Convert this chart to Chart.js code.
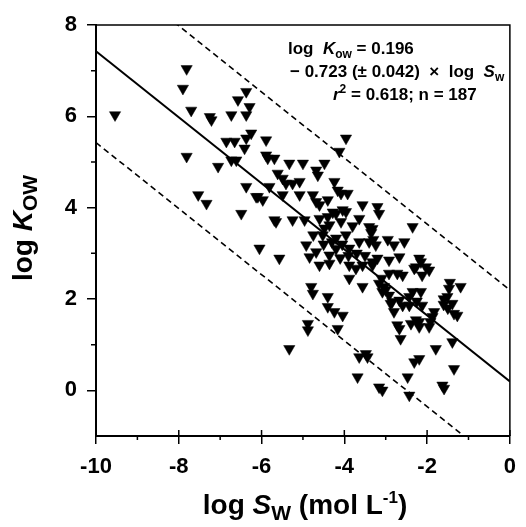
<!DOCTYPE html>
<html lang="en">
<head>
<meta charset="UTF-8">
<title>log Kow vs log Sw</title>
<script src="https://cdn.jsdelivr.net/npm/chart.js"></script>
<style>
  html, body { margin: 0; padding: 0; background: #fff; }
</style>
</head>
<body>
<canvas id="kowChart" width="526" height="527"></canvas>
<script>
// water solubility, log Sw (mol/L)
var logSw = [
  -9.54, -7.81, -7.90, -7.70, -7.25, -7.21, -6.73, -6.37, -6.57, -6.29,
  -6.37, -6.25, -6.37, -6.85, -6.65, -6.41, -7.81, -6.73, -6.61, -7.05,
  -6.37, -6.13, -7.53, -7.33, -6.49, -6.05, -5.57, -5.69, -5.89, -5.89,
  -5.85, -5.69, -5.33, -5.00, -4.68, -4.64, -4.48, -4.24, -5.61, -5.49,
  -5.41, -5.25, -5.08, -5.49, -5.08, -5.81, -6.09, -5.97, -4.76, -4.68,
  -4.60, -4.40, -4.08, -3.92, -5.65, -5.25, -4.96, -4.60, -4.36, -4.20,
  -3.96, -3.56, -3.64, -3.32, -4.52, -4.20, -3.96, -3.88, -3.64, -3.40,
  -3.24, -4.92, -4.68, -4.36, -3.96, -4.12, -5.33, -4.16, -3.20, -3.16,
  -3.40, -2.35, -4.48, -4.40, -4.28, -4.04, -4.08, -3.80, -3.30, -2.80,
  -2.55, -2.67, -2.92, -3.20, -3.32, -2.92, -2.59, -2.31, -2.15, -2.12,
  -1.95, -3.16, -3.04, -3.08, -2.92, -2.35, -2.15, -2.84, -2.80, -2.59,
  -2.43, -2.12, -1.83, -1.47, -1.19, -1.51, -1.39, -1.35, -1.27, -2.39,
  -2.19, -2.19, -1.92, -2.67, -2.64, -1.39, -1.79, -4.80, -4.76, -4.40,
  -4.40, -4.24, -4.04, -4.16, -4.88, -4.88, -3.64, -3.44, -3.68, -3.88,
  -3.56, -4.84, -4.60, -4.36, -3.88, -3.72, -3.56, -3.32, -1.95, -2.31,
  -2.19, -1.35, -2.47, -1.63, -1.59, -3.08, -2.43, -3.16, -4.20, -4.05,
  -3.90, -4.10, -3.70, -3.50, -4.50, -3.00, -2.72, -2.27, -2.03, -2.19,
  -2.43, -2.25, -1.60, -1.50, -1.45, -1.60, -1.87, -3.48, -2.88, -2.67,
  -2.72, -2.27, -3.35, -4.75, -3.10, -2.95, -4.30
];

// octanol/water partition coefficient, log Kow
var logKow = [
  6.03, 7.04, 6.61, 6.13, 5.99, 5.92, 6.03, 6.54, 6.36, 6.21,
  6.03, 5.63, 5.52, 5.45, 5.45, 5.30, 5.12, 5.04, 5.04, 4.90,
  4.46, 4.24, 4.28, 4.09, 3.87, 3.11, 2.89, 3.73, 5.48, 5.15,
  5.08, 5.08, 4.97, 4.97, 4.82, 4.71, 4.97, 4.57, 4.75, 4.64,
  4.53, 4.53, 4.57, 4.28, 4.28, 4.46, 4.24, 4.17, 4.28, 4.13,
  4.06, 4.17, 4.31, 4.31, 3.69, 3.73, 3.73, 3.76, 3.62, 3.87,
  3.91, 4.06, 3.76, 3.54, 3.40, 3.33, 3.40, 3.11, 3.25, 3.25,
  3.18, 3.18, 3.03, 2.96, 5.52, 5.23, 0.91, 4.38, 4.02, 3.87,
  3.58, 3.58, 3.55, 3.80, 3.90, 3.95, 3.69, 3.60, 3.30, 3.18,
  3.25, 2.92, 2.85, 2.89, 2.74, 2.56, 2.52, 2.67, 2.81, 2.52,
  2.63, 2.34, 2.27, 2.16, 2.08, 2.16, 2.16, 1.94, 1.72, 1.86,
  1.86, 1.86, 1.72, 2.23, 2.27, 2.05, 1.90, 1.68, 1.64, 1.46,
  1.50, 1.39, 1.50, 1.35, 1.13, 1.06, 0.91, 2.27, 2.12, 2.05,
  1.83, 1.72, 1.64, 1.35, 1.46, 1.32, 0.73, 0.73, 0.29, 2.45,
  2.27, 2.92, 2.74, 2.78, 2.74, 2.67, 2.74, 2.81, 1.39, 0.62,
  0.69, 0.47, 0.29, 0.11, 0.04, 0.00, -0.11, 0.07, 3.10, 3.20,
  2.95, 2.90, 3.00, 2.95, 3.20, 2.20, 2.56, 2.70, 2.70, 2.89,
  2.05, 1.95, 1.88, 1.80, 2.36, 2.00, 1.61, 0.80, 1.90, 1.97,
  1.43, 1.54, 3.45, 3.40, 2.45, 3.30, 3.25
];

var xTicks = [-10, -8, -6, -4, -2, 0];
var xMinor = [-9, -7, -5, -3, -1];
var yTicks = [0, 2, 4, 6, 8];
var yMinor = [1, 3, 5, 7];

// fitted line log Kow = 0.196 - 0.723 log Sw, with a +/- 2 log unit band
var intercept = 0.196;
var slope = -0.723;
var band = 2;
var lineX = [-10, 0];

var FONT = '"Liberation Sans", Arial, sans-serif';

function linePoints(offset) {
  return lineX.map(function (x) { return { x: x, y: intercept + slope * x + offset }; });
}

// draws a row of text pieces with their own fonts and vertical shifts
function drawRuns(ctx, runs, x, y, align) {
  var total = 0;
  runs.forEach(function (r) {
    ctx.font = r.f + ' ' + FONT;
    r.w = ctx.measureText(r.t).width;
    total += r.w;
  });
  var cx = align === 'center' ? x - total / 2 : x;
  runs.forEach(function (r) {
    ctx.font = r.f + ' ' + FONT;
    ctx.fillText(r.t, cx, y + (r.dy || 0));
    cx += r.w;
  });
}

var decor = {
  id: 'decor',
  afterDraw: function (chart) {
    var ctx = chart.ctx;
    var a = chart.chartArea;
    var xs = chart.scales.x, ys = chart.scales.y;
    ctx.save();
    ctx.strokeStyle = '#000';
    ctx.fillStyle = '#000';

    // top and right sides of the box
    ctx.lineWidth = 1.5;
    ctx.beginPath();
    ctx.moveTo(a.left, a.top);
    ctx.lineTo(a.right, a.top);
    ctx.lineTo(a.right, a.bottom);
    ctx.stroke();

    // minor ticks, and the inner half of the major x ticks
    ctx.beginPath();
    yMinor.forEach(function (v) {
      var p = ys.getPixelForValue(v);
      ctx.moveTo(a.left - 5, p); ctx.lineTo(a.left, p);
    });
    xMinor.forEach(function (v) {
      var p = xs.getPixelForValue(v);
      ctx.moveTo(p, a.bottom); ctx.lineTo(p, a.bottom + 4);
    });
    xTicks.forEach(function (v) {
      var p = xs.getPixelForValue(v);
      ctx.moveTo(p, a.bottom); ctx.lineTo(p, a.bottom - 6);
    });
    ctx.stroke();

    ctx.textBaseline = 'alphabetic';
    ctx.textAlign = 'left';

    // axis titles
    drawRuns(ctx, [
      { t: 'log ', f: 'bold 28px' },
      { t: 'S', f: 'italic bold 28px' },
      { t: 'W', f: 'bold 21px', dy: 6 },
      { t: ' (mol L', f: 'bold 28px' },
      { t: '-1', f: 'bold 17px', dy: -11 },
      { t: ')', f: 'bold 28px' }
    ], 305, 514, 'center');

    ctx.save();
    ctx.translate(32, 228);
    ctx.rotate(-Math.PI / 2);
    drawRuns(ctx, [
      { t: 'log ', f: 'bold 28px' },
      { t: 'K', f: 'italic bold 28px' },
      { t: 'OW', f: 'bold 21px', dy: 5 }
    ], 0, 0, 'center');
    ctx.restore();

    // regression equation
    drawRuns(ctx, [
      { t: 'log  ', f: 'bold 17px' },
      { t: 'K', f: 'italic bold 17px' },
      { t: 'ow', f: 'bold 12px', dy: 4 },
      { t: ' = 0.196', f: 'bold 17px' }
    ], 288, 54);
    drawRuns(ctx, [
      { t: '\u2212 0.723 (\u00b1 0.042)  \u00d7  log  ', f: 'bold 17px' },
      { t: 'S', f: 'italic bold 17px' },
      { t: 'w', f: 'bold 12px', dy: 4 }
    ], 290, 77);
    drawRuns(ctx, [
      { t: 'r', f: 'italic bold 17px' },
      { t: '2', f: 'bold 12px', dy: -7 },
      { t: ' = 0.618; n = 187', f: 'bold 17px' }
    ], 333, 100);

    ctx.restore();
  }
};

var points = logSw.map(function (x, i) { return { x: x, y: logKow[i] }; });

new Chart(document.getElementById('kowChart'), {
  type: 'scatter',
  data: {
    datasets: [
      {
        data: points,
        pointStyle: 'triangle',
        rotation: 180,
        pointRadius: 6.5,
        backgroundColor: '#000',
        borderColor: '#000',
        borderWidth: 0.5
      },
      {
        data: linePoints(0),
        showLine: true,
        borderColor: '#000',
        borderWidth: 2,
        pointRadius: 0
      },
      {
        data: linePoints(band),
        showLine: true,
        borderColor: '#000',
        borderWidth: 1.6,
        borderDash: [6, 4],
        pointRadius: 0
      },
      {
        data: linePoints(-band),
        showLine: true,
        borderColor: '#000',
        borderWidth: 1.6,
        borderDash: [6, 4],
        pointRadius: 0
      }
    ]
  },
  options: {
    responsive: false,
    animation: false,
    layout: { padding: { top: 25, right: 15, left: 0, bottom: 0 } },
    plugins: { legend: { display: false }, tooltip: { enabled: false } },
    scales: {
      x: {
        type: 'linear',
        min: -10,
        max: 0,
        afterBuildTicks: function (s) { s.ticks = xTicks.map(function (v) { return { value: v }; }); },
        afterFit: function (s) { s.height = 91; },
        ticks: { color: '#000', padding: 10, font: { family: FONT, size: 22, weight: 'bold' } },
        grid: { drawOnChartArea: false, color: '#000', lineWidth: 1.5, tickLength: 8 },
        border: { color: '#000', width: 2 }
      },
      y: {
        type: 'linear',
        min: -1,
        max: 8,
        afterBuildTicks: function (s) { s.ticks = yTicks.map(function (v) { return { value: v }; }); },
        afterFit: function (s) { s.width = 96; },
        ticks: { color: '#000', padding: 10, font: { family: FONT, size: 22, weight: 'bold' } },
        grid: { drawOnChartArea: false, color: '#000', lineWidth: 1.5, tickLength: 9 },
        border: { color: '#000', width: 2 }
      }
    }
  },
  plugins: [decor]
});
</script>
</body>
</html>
